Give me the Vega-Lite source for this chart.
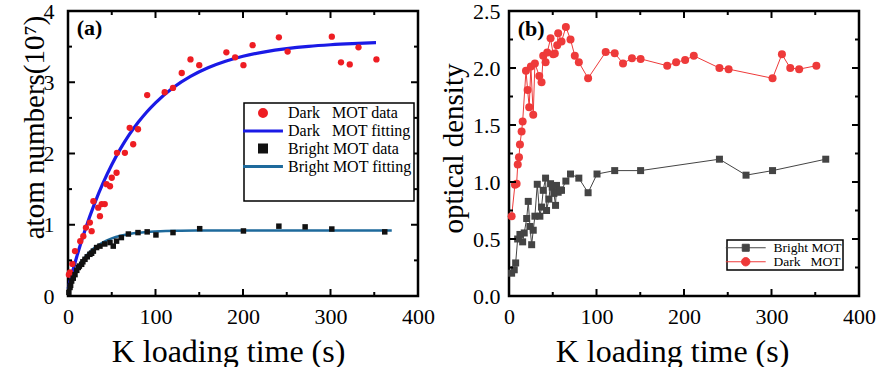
{
  "$schema": "https://vega.github.io/schema/vega-lite/v6.json",
  "background": "white",
  "padding": {"left": 18, "top": -2, "right": 5, "bottom": 0},
  "bounds": "flush",
  "spacing": 91,
  "resolve": {"scale": {"color": "independent", "size": "independent"}, "legend": {"color": "independent"}},
  "config": {
    "font": "Liberation Serif",
    "view": {"stroke": "black", "strokeWidth": 2.5},
    "axis": {
      "labelFont": "Liberation Serif", "labelFontSize": 22, "labelColor": "black",
      "titleFont": "Liberation Serif", "titleFontSize": 29, "titleFontWeight": "normal", "titleColor": "black",
      "ticks": false, "tickSize": 0, "grid": false, "domain": false,
      "labelFlush": false, "labelOverlap": false
    },
    "legend": {"labelFont": "Liberation Serif", "labelColor": "black", "titleFont": "Liberation Serif"}
  },
  "datasets": {
    "xt": [
      {"t":50,"k":"minor"},{"t":100,"k":"major"},{"t":150,"k":"minor"},{"t":200,"k":"major"},
      {"t":250,"k":"minor"},{"t":300,"k":"major"},{"t":350,"k":"minor"}
    ],
    "ytA": [
      {"v":0.5,"k":"minor"},{"v":1,"k":"major"},{"v":1.5,"k":"minor"},{"v":2,"k":"major"},
      {"v":2.5,"k":"minor"},{"v":3,"k":"major"},{"v":3.5,"k":"minor"}
    ],
    "ytB": [
      {"v":0.25,"k":"minor"},{"v":0.5,"k":"major"},{"v":0.75,"k":"minor"},{"v":1,"k":"major"},{"v":1.25,"k":"minor"},
      {"v":1.5,"k":"major"},{"v":1.75,"k":"minor"},{"v":2,"k":"major"},{"v":2.25,"k":"minor"}
    ],
    "darkData": [
      {"t":1,"v":0.3,"s":"dd"},{"t":2.3,"v":0.33,"s":"dd"},{"t":5,"v":0.45,"s":"dd"},{"t":8,"v":0.63,"s":"dd"},
      {"t":14,"v":0.77,"s":"dd"},{"t":17.5,"v":0.84,"s":"dd"},{"t":20.5,"v":0.96,"s":"dd"},{"t":25,"v":1.03,"s":"dd"},
      {"t":27,"v":0.91,"s":"dd"},{"t":29,"v":1.33,"s":"dd"},{"t":34.5,"v":1.24,"s":"dd"},{"t":36.5,"v":1.12,"s":"dd"},
      {"t":38.5,"v":1.29,"s":"dd"},{"t":42,"v":1.29,"s":"dd"},{"t":44,"v":1.57,"s":"dd"},{"t":48,"v":1.54,"s":"dd"},
      {"t":50,"v":1.66,"s":"dd"},{"t":55.5,"v":1.73,"s":"dd"},{"t":56,"v":2.01,"s":"dd"},{"t":65,"v":2.01,"s":"dd"},
      {"t":70.5,"v":2.36,"s":"dd"},{"t":74.5,"v":2.13,"s":"dd"},{"t":80,"v":2.34,"s":"dd"},{"t":90.5,"v":2.82,"s":"dd"},
      {"t":110.5,"v":2.86,"s":"dd"},{"t":120,"v":2.92,"s":"dd"},{"t":130,"v":3.13,"s":"dd"},{"t":140,"v":3.32,"s":"dd"},
      {"t":150,"v":3.24,"s":"dd"},{"t":181,"v":3.42,"s":"dd"},{"t":191,"v":3.35,"s":"dd"},{"t":200.5,"v":3.24,"s":"dd"},
      {"t":211,"v":3.52,"s":"dd"},{"t":241,"v":3.63,"s":"dd"},{"t":251,"v":3.43,"s":"dd"},{"t":301.5,"v":3.64,"s":"dd"},
      {"t":312,"v":3.28,"s":"dd"},{"t":322,"v":3.25,"s":"dd"},{"t":332,"v":3.49,"s":"dd"},{"t":352.5,"v":3.32,"s":"dd"}
    ],
    "brightData": [
      {"t":1,"v":0.05,"s":"bd"},{"t":2.3,"v":0.12,"s":"bd"},{"t":3,"v":0.15,"s":"bd"},{"t":4.2,"v":0.21,"s":"bd"},
      {"t":6,"v":0.25,"s":"bd"},{"t":8,"v":0.3,"s":"bd"},{"t":10,"v":0.36,"s":"bd"},{"t":11.8,"v":0.4,"s":"bd"},
      {"t":13,"v":0.42,"s":"bd"},{"t":15.6,"v":0.445,"s":"bd"},{"t":17,"v":0.48,"s":"bd"},{"t":19.4,"v":0.515,"s":"bd"},
      {"t":22,"v":0.55,"s":"bd"},{"t":25,"v":0.585,"s":"bd"},{"t":27,"v":0.6,"s":"bd"},{"t":29,"v":0.63,"s":"bd"},
      {"t":32.7,"v":0.68,"s":"bd"},{"t":36.5,"v":0.7,"s":"bd"},{"t":42,"v":0.73,"s":"bd"},{"t":48,"v":0.75,"s":"bd"},
      {"t":51.7,"v":0.7,"s":"bd"},{"t":55.5,"v":0.77,"s":"bd"},{"t":61,"v":0.82,"s":"bd"},{"t":69,"v":0.87,"s":"bd"},
      {"t":80,"v":0.89,"s":"bd"},{"t":90.5,"v":0.9,"s":"bd"},{"t":100.5,"v":0.857,"s":"bd"},{"t":120,"v":0.89,"s":"bd"},
      {"t":150.5,"v":0.945,"s":"bd"},{"t":200.5,"v":0.913,"s":"bd"},{"t":241,"v":0.98,"s":"bd"},{"t":271,"v":0.97,"s":"bd"},
      {"t":301.5,"v":0.94,"s":"bd"},{"t":362,"v":0.9,"s":"bd"}
    ],
    "darkFit": [
      {"t":0,"v":0.1,"s":"df"},{"t":5,"v":0.334,"s":"df"},{"t":10,"v":0.551,"s":"df"},{"t":15,"v":0.754,"s":"df"},
      {"t":20,"v":0.944,"s":"df"},{"t":30,"v":1.286,"s":"df"},{"t":40,"v":1.583,"s":"df"},{"t":50,"v":1.842,"s":"df"},
      {"t":60,"v":2.068,"s":"df"},{"t":70,"v":2.264,"s":"df"},{"t":80,"v":2.434,"s":"df"},{"t":90,"v":2.583,"s":"df"},
      {"t":100,"v":2.712,"s":"df"},{"t":120,"v":2.923,"s":"df"},{"t":140,"v":3.082,"s":"df"},{"t":160,"v":3.203,"s":"df"},
      {"t":180,"v":3.294,"s":"df"},{"t":200,"v":3.364,"s":"df"},{"t":225,"v":3.427,"s":"df"},{"t":250,"v":3.472,"s":"df"},
      {"t":275,"v":3.504,"s":"df"},{"t":300,"v":3.526,"s":"df"},{"t":325,"v":3.542,"s":"df"},{"t":352,"v":3.555,"s":"df"}
    ],
    "brightFit": [
      {"t":0,"v":0.1,"s":"bf"},{"t":2.5,"v":0.178,"s":"bf"},{"t":5,"v":0.249,"s":"bf"},{"t":10,"v":0.37,"s":"bf"},
      {"t":15,"v":0.47,"s":"bf"},{"t":20,"v":0.552,"s":"bf"},{"t":25,"v":0.618,"s":"bf"},{"t":30,"v":0.673,"s":"bf"},
      {"t":40,"v":0.754,"s":"bf"},{"t":50,"v":0.809,"s":"bf"},{"t":60,"v":0.846,"s":"bf"},{"t":70,"v":0.87,"s":"bf"},
      {"t":80,"v":0.887,"s":"bf"},{"t":90,"v":0.898,"s":"bf"},{"t":100,"v":0.905,"s":"bf"},{"t":125,"v":0.915,"s":"bf"},
      {"t":150,"v":0.918,"s":"bf"},{"t":200,"v":0.92,"s":"bf"},{"t":250,"v":0.92,"s":"bf"},{"t":300,"v":0.92,"s":"bf"},
      {"t":370,"v":0.92,"s":"bf"}
    ],
    "darkOD": [
      {"t":3,"v":0.7,"s":"d"},{"t":6.8,"v":0.976,"s":"d"},{"t":8.7,"v":0.985,"s":"d"},{"t":10,"v":1.154,"s":"d"},
      {"t":11.4,"v":1.218,"s":"d"},{"t":12.5,"v":1.329,"s":"d"},{"t":14.4,"v":1.442,"s":"d"},{"t":15.6,"v":1.53,"s":"d"},
      {"t":19.4,"v":1.976,"s":"d"},{"t":21.3,"v":1.807,"s":"d"},{"t":23.1,"v":1.655,"s":"d"},{"t":25,"v":2.013,"s":"d"},
      {"t":27.7,"v":1.59,"s":"d"},{"t":29.6,"v":2.04,"s":"d"},{"t":34.6,"v":1.93,"s":"d"},{"t":37.2,"v":1.875,"s":"d"},
      {"t":39.1,"v":2.107,"s":"d"},{"t":41.8,"v":2.05,"s":"d"},{"t":43.7,"v":2.136,"s":"d"},{"t":47.5,"v":2.26,"s":"d"},
      {"t":50.5,"v":2.12,"s":"d"},{"t":52.4,"v":2.127,"s":"d"},{"t":55.1,"v":2.2,"s":"d"},{"t":56.2,"v":2.305,"s":"d"},
      {"t":60,"v":2.232,"s":"d"},{"t":65,"v":2.36,"s":"d"},{"t":70.3,"v":2.25,"s":"d"},{"t":75.2,"v":2.107,"s":"d"},
      {"t":79.8,"v":2.05,"s":"d"},{"t":90.4,"v":1.91,"s":"d"},{"t":110.5,"v":2.14,"s":"d"},{"t":120.8,"v":2.13,"s":"d"},
      {"t":130.3,"v":2.04,"s":"d"},{"t":140.5,"v":2.086,"s":"d"},{"t":150.4,"v":2.08,"s":"d"},{"t":180.8,"v":2.02,"s":"d"},
      {"t":191,"v":2.05,"s":"d"},{"t":201.3,"v":2.07,"s":"d"},{"t":211.2,"v":2.107,"s":"d"},{"t":240.5,"v":2.0,"s":"d"},
      {"t":251,"v":1.99,"s":"d"},{"t":301.2,"v":1.91,"s":"d"},{"t":311.9,"v":2.12,"s":"d"},{"t":321.4,"v":2.0,"s":"d"},
      {"t":331.6,"v":1.99,"s":"d"},{"t":351.3,"v":2.02,"s":"d"}
    ],
    "brightOD": [
      {"t":3,"v":0.2,"s":"b"},{"t":6,"v":0.23,"s":"b"},{"t":7.6,"v":0.29,"s":"b"},{"t":9.9,"v":0.5,"s":"b"},
      {"t":12.5,"v":0.54,"s":"b"},{"t":15.6,"v":0.475,"s":"b"},{"t":17.4,"v":0.553,"s":"b"},{"t":20.2,"v":0.68,"s":"b"},
      {"t":22,"v":0.83,"s":"b"},{"t":23.9,"v":0.61,"s":"b"},{"t":25.9,"v":0.45,"s":"b"},{"t":27.7,"v":0.577,"s":"b"},
      {"t":29.6,"v":0.7,"s":"b"},{"t":32.3,"v":0.98,"s":"b"},{"t":35.3,"v":0.7,"s":"b"},{"t":37.2,"v":0.78,"s":"b"},
      {"t":39.1,"v":0.927,"s":"b"},{"t":41.8,"v":1.034,"s":"b"},{"t":42.9,"v":0.75,"s":"b"},{"t":45.6,"v":0.85,"s":"b"},
      {"t":47.5,"v":0.985,"s":"b"},{"t":49.4,"v":0.955,"s":"b"},{"t":51.3,"v":0.9,"s":"b"},{"t":53.2,"v":0.795,"s":"b"},
      {"t":54.3,"v":0.97,"s":"b"},{"t":56.2,"v":0.91,"s":"b"},{"t":58.1,"v":0.93,"s":"b"},{"t":60,"v":0.927,"s":"b"},
      {"t":65,"v":1.008,"s":"b"},{"t":70.3,"v":1.07,"s":"b"},{"t":79.8,"v":1.034,"s":"b"},{"t":90.4,"v":0.906,"s":"b"},
      {"t":100.6,"v":1.07,"s":"b"},{"t":120.8,"v":1.1,"s":"b"},{"t":150.4,"v":1.1,"s":"b"},{"t":240.5,"v":1.2,"s":"b"},
      {"t":270.9,"v":1.06,"s":"b"},{"t":301.2,"v":1.1,"s":"b"},{"t":362,"v":1.2,"s":"b"}
    ]
  },
  "hconcat": [
    {
      "width": 350, "height": 285,
      "resolve": {"axis": {"x": "independent", "y": "independent"}},
      "layer": [
        {
          "data": {"name": "darkFit"},
          "mark": {"type": "line", "strokeWidth": 3.2, "interpolate": "monotone"},
          "encoding": {
            "x": {"field": "t", "type": "quantitative", "scale": {"domain": [0, 400], "nice": false},
                  "axis": {"orient": "bottom", "values": [0, 100, 200, 300, 400], "labelPadding": 10,
                           "title": "K loading time (s)", "titleFontSize": 32, "titleX": 160, "titleY": 65, "titleBaseline": "alphabetic"}},
            "y": {"field": "v", "type": "quantitative", "scale": {"domain": [0, 4], "nice": false},
                  "axis": {"orient": "left", "values": [0, 1, 2, 3, 4], "labelPadding": 14,
                           "title": "atom numbers(10⁷)", "titleX": -25, "titleY": 116, "titleBaseline": "alphabetic", "titleAlign": "center", "titleAngle": -90}},
            "color": {"field": "s", "type": "nominal",
                      "scale": {"domain": ["dd", "df", "bd", "bf"], "range": ["#ee1d23", "#1a1ae6", "#111111", "#1e6a9c"]},
                      "legend": {
                        "orient": "none", "legendX": 176, "legendY": 92,
                        "title": "\u00a0", "titleOrient": "bottom", "titleFontSize": 14, "titlePadding": 10,
                        "labelFontSize": 16, "labelExpr": "datum.value=='dd'?'Dark\u00a0\u00a0\u00a0MOT data':datum.value=='df'?'Dark\u00a0\u00a0\u00a0MOT fitting':datum.value=='bd'?'Bright MOT data':'Bright MOT fitting'",
                        "strokeColor": "black", "fillColor": "white", "padding": 2,
                        "symbolOffset": 9, "labelOffset": 17, "rowPadding": -0.5,
                        "encode": {
                          "legend": {"update": {"strokeWidth": {"value": 1.5}}},
                          "symbols": {"update": {
                          "shape": {"signal": "datum.value=='dd'?'circle':datum.value=='bd'?'square':'M-5.7,0H5.7'"},
                          "size": {"value": 49},
                          "fill": {"signal": "datum.value=='dd'?'#ee1d23':datum.value=='bd'?'#111111':'transparent'"},
                          "stroke": {"signal": "datum.value=='df'?'#1a1ae6':datum.value=='bf'?'#1e6a9c':'transparent'"},
                          "strokeWidth": {"value": 3},
                          "opacity": {"value": 1}
                        }}}
                      }}
          }
        },
        {
          "data": {"name": "brightFit"},
          "mark": {"type": "line", "strokeWidth": 2.5, "interpolate": "monotone"},
          "encoding": {
            "x": {"field": "t", "type": "quantitative", "axis": null},
            "y": {"field": "v", "type": "quantitative", "axis": null},
            "color": {"field": "s", "type": "nominal"}
          }
        },
        {
          "data": {"name": "darkData"},
          "mark": {"type": "point", "filled": true, "shape": "circle", "size": 40, "opacity": 1},
          "encoding": {
            "x": {"field": "t", "type": "quantitative", "axis": null},
            "y": {"field": "v", "type": "quantitative", "axis": null},
            "color": {"field": "s", "type": "nominal"}
          }
        },
        {
          "data": {"name": "brightData"},
          "mark": {"type": "square", "filled": true, "size": 30, "opacity": 1},
          "encoding": {
            "x": {"field": "t", "type": "quantitative", "axis": null},
            "y": {"field": "v", "type": "quantitative", "axis": null},
            "color": {"field": "s", "type": "nominal"}
          }
        },
        {
          "data": {"name": "xt"},
          "mark": {"type": "tick", "orient": "vertical", "thickness": 2, "clip": true, "color": "black", "opacity": 1},
          "encoding": {
            "x": {"field": "t", "type": "quantitative", "axis": null},
            "y": {"datum": 0, "type": "quantitative", "axis": null},
            "size": {"field": "k", "type": "ordinal", "scale": {"domain": ["major", "minor"], "range": [14, 8]}, "legend": null}
          }
        },
        {
          "data": {"name": "xt"},
          "mark": {"type": "tick", "orient": "vertical", "thickness": 2, "clip": true, "color": "black", "opacity": 1},
          "encoding": {
            "x": {"field": "t", "type": "quantitative", "axis": null},
            "y": {"datum": 4, "type": "quantitative", "axis": null},
            "size": {"field": "k", "type": "ordinal", "legend": null}
          }
        },
        {
          "data": {"name": "ytA"},
          "mark": {"type": "tick", "orient": "horizontal", "thickness": 2, "clip": true, "color": "black", "opacity": 1},
          "encoding": {
            "y": {"field": "v", "type": "quantitative", "axis": null},
            "x": {"datum": 0, "type": "quantitative", "axis": null},
            "size": {"field": "k", "type": "ordinal", "legend": null}
          }
        },
        {
          "data": {"name": "ytA"},
          "mark": {"type": "tick", "orient": "horizontal", "thickness": 2, "clip": true, "color": "black", "opacity": 1},
          "encoding": {
            "y": {"field": "v", "type": "quantitative", "axis": null},
            "x": {"datum": 400, "type": "quantitative", "axis": null},
            "size": {"field": "k", "type": "ordinal", "legend": null}
          }
        },
        {
          "data": {"values": [{}]},
          "mark": {"type": "text", "align": "left", "baseline": "middle", "font": "Liberation Serif", "fontSize": 22, "fontWeight": "bold", "color": "black"},
          "encoding": {
            "x": {"datum": 10, "type": "quantitative", "axis": null},
            "y": {"datum": 3.76, "type": "quantitative", "axis": null},
            "text": {"value": "(a)"}
          }
        }
      ]
    },
    {
      "width": 350, "height": 285,
      "resolve": {"axis": {"x": "independent", "y": "independent"}},
      "layer": [
        {
          "data": {"name": "brightOD"},
          "mark": {"type": "line", "strokeWidth": 1},
          "encoding": {
            "x": {"field": "t", "type": "quantitative", "scale": {"domain": [0, 400], "nice": false},
                  "axis": {"orient": "bottom", "values": [0, 100, 200, 300, 400], "labelPadding": 10,
                           "title": "K loading time (s)", "titleFontSize": 32, "titleX": 163, "titleY": 65, "titleBaseline": "alphabetic"}},
            "y": {"field": "v", "type": "quantitative", "scale": {"domain": [0, 2.5], "nice": false},
                  "axis": {"orient": "left", "values": [0, 0.5, 1, 1.5, 2, 2.5], "format": ".1f", "labelPadding": 9,
                           "title": "optical density", "titleX": -47, "titleY": 137, "titleBaseline": "alphabetic", "titleAlign": "center", "titleAngle": -90}},
            "color": {"field": "s", "type": "nominal",
                      "scale": {"domain": ["b", "d"], "range": ["#444444", "#ee3a3a"]},
                      "legend": {
                        "orient": "none", "legendX": 218, "legendY": 229, "title": null,
                        "labelFontSize": 13.5, "labelExpr": "datum.value=='b'?'Bright MOT':'Dark\u00a0\u00a0\u00a0MOT'",
                        "strokeColor": "black", "fillColor": "white", "padding": 1,
                        "symbolOffset": 11, "labelOffset": 21, "rowPadding": -2.5,
                        "encode": {
                          "legend": {"update": {"strokeWidth": {"value": 1.5}}},
                          "symbols": {"update": {
                          "shape": {"signal": "datum.value=='b'?'M-5.7,0H5.7M-1,-1H1V1H-1Z':'M-5.7,0H5.7M-1.2,0A1.2,1.2,0,1,1,1.2,0A1.2,1.2,0,1,1,-1.2,0Z'"},
                          "size": {"value": 49},
                          "fill": {"signal": "datum.value=='b'?'#444444':'#ee3a3a'"},
                          "stroke": {"signal": "datum.value=='b'?'#444444':'#ee3a3a'"},
                          "strokeWidth": {"value": 1},
                          "opacity": {"value": 1}
                        }}}
                      }}
          }
        },
        {
          "data": {"name": "darkOD"},
          "mark": {"type": "line", "strokeWidth": 1},
          "encoding": {
            "x": {"field": "t", "type": "quantitative", "axis": null},
            "y": {"field": "v", "type": "quantitative", "axis": null},
            "color": {"field": "s", "type": "nominal"}
          }
        },
        {
          "data": {"name": "brightOD"},
          "mark": {"type": "square", "filled": true, "size": 49, "opacity": 1},
          "encoding": {
            "x": {"field": "t", "type": "quantitative", "axis": null},
            "y": {"field": "v", "type": "quantitative", "axis": null},
            "color": {"field": "s", "type": "nominal"}
          }
        },
        {
          "data": {"name": "darkOD"},
          "mark": {"type": "circle", "size": 64, "opacity": 1},
          "encoding": {
            "x": {"field": "t", "type": "quantitative", "axis": null},
            "y": {"field": "v", "type": "quantitative", "axis": null},
            "color": {"field": "s", "type": "nominal"}
          }
        },
        {
          "data": {"name": "xt"},
          "mark": {"type": "tick", "orient": "vertical", "thickness": 2, "clip": true, "color": "black", "opacity": 1},
          "encoding": {
            "x": {"field": "t", "type": "quantitative", "axis": null},
            "y": {"datum": 0, "type": "quantitative", "axis": null},
            "size": {"field": "k", "type": "ordinal", "scale": {"domain": ["major", "minor"], "range": [14, 8]}, "legend": null}
          }
        },
        {
          "data": {"name": "xt"},
          "mark": {"type": "tick", "orient": "vertical", "thickness": 2, "clip": true, "color": "black", "opacity": 1},
          "encoding": {
            "x": {"field": "t", "type": "quantitative", "axis": null},
            "y": {"datum": 2.5, "type": "quantitative", "axis": null},
            "size": {"field": "k", "type": "ordinal", "legend": null}
          }
        },
        {
          "data": {"name": "ytB"},
          "mark": {"type": "tick", "orient": "horizontal", "thickness": 2, "clip": true, "color": "black", "opacity": 1},
          "encoding": {
            "y": {"field": "v", "type": "quantitative", "axis": null},
            "x": {"datum": 0, "type": "quantitative", "axis": null},
            "size": {"field": "k", "type": "ordinal", "legend": null}
          }
        },
        {
          "data": {"name": "ytB"},
          "mark": {"type": "tick", "orient": "horizontal", "thickness": 2, "clip": true, "color": "black", "opacity": 1},
          "encoding": {
            "y": {"field": "v", "type": "quantitative", "axis": null},
            "x": {"datum": 400, "type": "quantitative", "axis": null},
            "size": {"field": "k", "type": "ordinal", "legend": null}
          }
        },
        {
          "data": {"values": [{}]},
          "mark": {"type": "text", "align": "left", "baseline": "middle", "font": "Liberation Serif", "fontSize": 22, "fontWeight": "bold", "color": "black"},
          "encoding": {
            "x": {"datum": 10, "type": "quantitative", "axis": null},
            "y": {"datum": 2.34, "type": "quantitative", "axis": null},
            "text": {"value": "(b)"}
          }
        }
      ]
    }
  ]
}
